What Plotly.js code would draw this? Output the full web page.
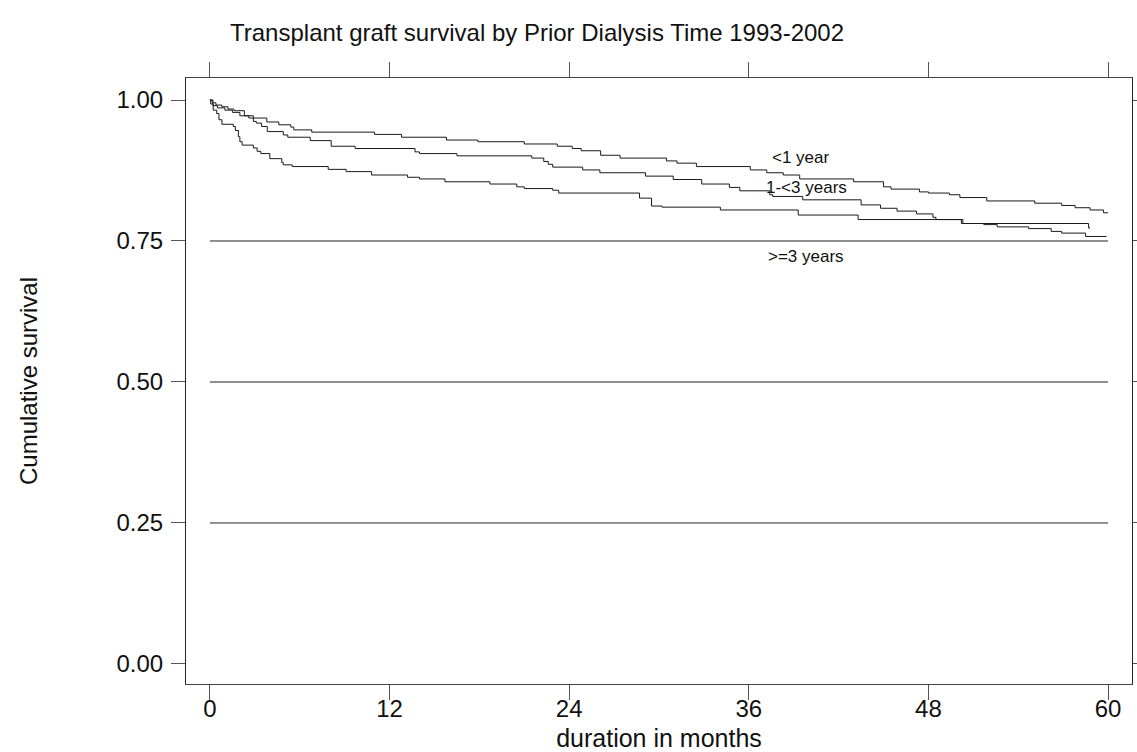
<!DOCTYPE html>
<html>
<head>
<meta charset="utf-8">
<script src="https://cdn.plot.ly/plotly-3.0.1.min.js"></script>
<style>html,body{margin:0;padding:0;background:#fff;}#chart{width:1137px;height:752px;}</style>
</head>
<body>
<div id="chart"></div>
<script>
// Kaplan-Meier estimates (months, cumulative survival)
var lt1Months = [0,0.15,0.4,0.8,1.2,1.6,2.3,2.9,3.8,4.6,5.4,5.6,6.8,11.0,12.8,15.8,17.9,21.0,23.2,24.2,24.8,26.1,27.4,30.5,31.2,32.5,36.1,37.2,38.3,39.4,43.0,45.0,45.5,47.4,48.0,49.4,50.1,51.9,55.1,56.9,57.8,58.8,59.7,60.0];
var lt1Surv   = [1.0,0.995,0.991,0.988,0.984,0.981,0.972,0.968,0.961,0.956,0.952,0.947,0.943,0.939,0.934,0.929,0.926,0.922,0.918,0.914,0.910,0.902,0.897,0.892,0.888,0.882,0.876,0.871,0.867,0.860,0.855,0.846,0.842,0.837,0.835,0.832,0.827,0.821,0.817,0.813,0.809,0.805,0.800,0.800];

var y1to3Months = [0,0.2,0.5,1.0,1.5,2.0,2.6,2.9,3.1,3.45,3.83,4.9,5.2,6.7,8.1,9.7,13.7,14.0,16.5,21.5,22.3,22.6,22.9,24.9,26.05,29.1,30.95,32.85,34.7,35.4,37.4,37.6,39.6,43.5,44.8,45.9,47.2,48.3,48.5,50.3,51.7,52.6,54.7,56.2,56.9,58.5,59.9];
var y1to3Surv   = [1.0,0.990,0.986,0.982,0.978,0.972,0.968,0.962,0.959,0.953,0.944,0.938,0.934,0.928,0.918,0.914,0.908,0.905,0.901,0.897,0.891,0.886,0.881,0.876,0.871,0.865,0.859,0.851,0.845,0.839,0.832,0.829,0.823,0.814,0.808,0.803,0.798,0.792,0.788,0.781,0.779,0.775,0.772,0.767,0.764,0.758,0.758];

var ge3Months = [0,0.05,0.22,0.45,0.6,0.8,1.56,1.7,1.9,2.0,2.15,2.9,3.15,3.4,4.0,4.8,4.9,5.5,7.9,9.1,10.8,13.2,14.0,15.7,18.7,20.5,21.0,22.9,23.3,28.7,29.5,30.2,34.1,39.3,43.3,50.2,58.7,58.8];
var ge3Surv   = [1.0,0.993,0.982,0.976,0.965,0.957,0.953,0.946,0.935,0.926,0.920,0.915,0.909,0.905,0.896,0.889,0.885,0.882,0.877,0.873,0.867,0.863,0.860,0.855,0.851,0.846,0.843,0.840,0.835,0.826,0.812,0.810,0.805,0.796,0.788,0.781,0.773,0.773];

var groupLabels = ['<1 year','1-<3 years','>=3 years'];
var labelMonths = [39.5,39.85,39.8];
var labelSurv   = [0.898,0.845,0.7225];

var refLevels = [0.25,0.50,0.75];
var xTicks = [0,12,24,36,48,60];
var yTicks = [0,0.25,0.5,0.75,1.0];

var FONT = 'Liberation Sans, Arial, Helvetica, sans-serif';
var lineStyle = {color:'#1a1a1a', width:1, shape:'hv'};

// reference lines at fixed survival levels, spanning the first to last x tick
var refX = [], refY = [];
refLevels.forEach(function(v){
  refX.push(xTicks[0], xTicks[xTicks.length-1], null);
  refY.push(v, v, null);
});

var traces = [
  {x:refX, y:refY, xaxis:'x2', yaxis:'y', mode:'lines', line:{color:'#222', width:1}, hoverinfo:'skip', connectgaps:false},
  {x:lt1Months, y:lt1Surv, name:groupLabels[0], mode:'lines', line:lineStyle, hoverinfo:'x+y+name'},
  {x:y1to3Months, y:y1to3Surv, name:groupLabels[1], mode:'lines', line:lineStyle, hoverinfo:'x+y+name'},
  {x:ge3Months, y:ge3Surv, name:groupLabels[2], mode:'lines', line:lineStyle, hoverinfo:'x+y+name'}
];

var annotations = groupLabels.map(function(t,i){
  return {x:labelMonths[i], y:labelSurv[i], xref:'x', yref:'y', text:t, showarrow:false,
          font:{family:FONT, size:17, color:'#111'}, xanchor:'center', yanchor:'middle'};
});

var xRange = [-1.6,61.6];

var layout = {
  width:1137, height:752,
  margin:{l:186, r:5, t:78, b:68, pad:0},
  paper_bgcolor:'#fff', plot_bgcolor:'#fff',
  showlegend:false,
  font:{family:FONT, color:'#111'},
  title:{text:'Transplant graft survival by Prior Dialysis Time 1993-2002',
         font:{family:FONT, size:24, color:'#111'},
         x:230/1137, xref:'container', xanchor:'left', y:1-33/752, yref:'container', yanchor:'middle'},
  xaxis:{range:xRange, tickvals:xTicks, showticklabels:false,
         ticks:'outside', ticklen:15, tickwidth:1, tickcolor:'#555',
         showline:true, linecolor:'#444', linewidth:1, mirror:'ticks',
         showgrid:false, zeroline:false},
  xaxis2:{range:xRange, overlaying:'x', anchor:'y', side:'bottom',
          tickvals:xTicks, ticktext:xTicks.map(String),
          ticks:'outside', ticklen:3, tickcolor:'rgba(0,0,0,0)',
          showline:false, showgrid:false, zeroline:false,
          tickfont:{family:FONT, size:24, color:'#111'},
          title:{text:'duration in months', font:{family:FONT, size:25, color:'#111'}, standoff:13}},
  yaxis:{range:[-0.0355,1.039], tickvals:yTicks, ticktext:yTicks.map(function(v){return v.toFixed(2);}),
         ticks:'outside', ticklen:14, tickwidth:1, tickcolor:'#555',
         showline:true, linecolor:'#222', linewidth:1, mirror:'ticks',
         showgrid:false, zeroline:false, ticklabelstandoff:3,
         tickfont:{family:FONT, size:24, color:'#111'},
         title:{text:'Cumulative survival', font:{family:FONT, size:24, color:'#111'}, standoff:72}},
  annotations:annotations
};

Plotly.newPlot('chart', traces, layout, {displayModeBar:false});
</script>
</body>
</html>
